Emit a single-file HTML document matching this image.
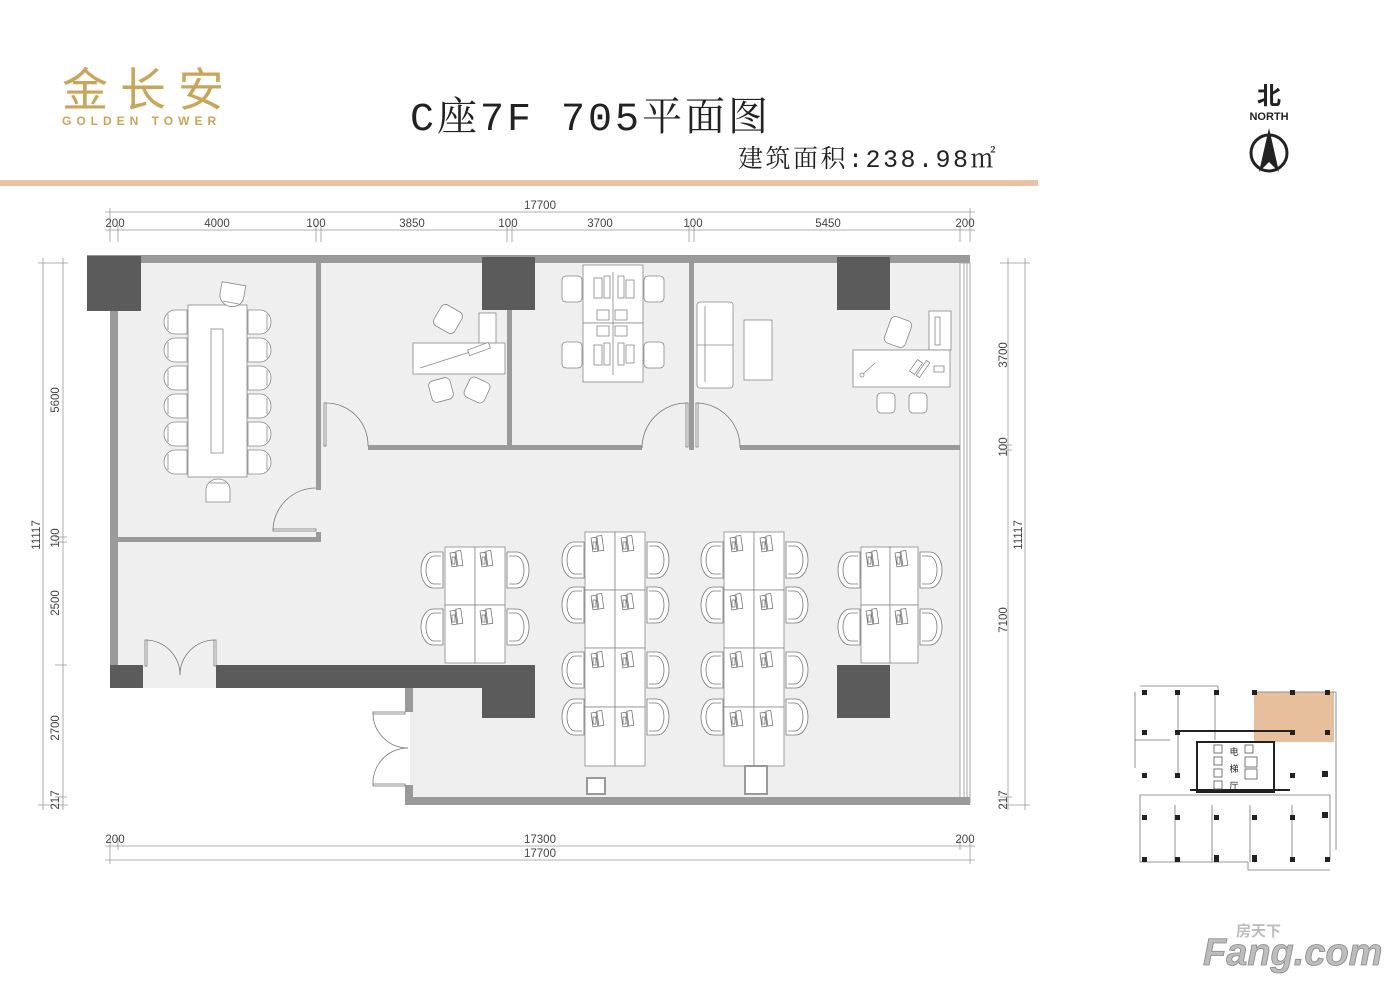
<!DOCTYPE html>
<html><head><meta charset="utf-8"><style>
html,body{margin:0;padding:0;background:#fff;}
svg{display:block;}
</style></head><body>
<svg width="1400" height="990" viewBox="0 0 1400 990" xmlns="http://www.w3.org/2000/svg">
<defs>
<g id="chL" fill="#fff" stroke="#777" stroke-width="0.8">
<path d="M22,2 H12 A12,18 0 0 0 12,38 H22 Z"/>
<path d="M20,6 H13 A8,14 0 0 0 13,34 H20"/>
</g>
<g id="mon" fill="#fff" stroke="#666" stroke-width="0.7">
<rect x="0" y="0" width="5" height="14" transform="rotate(-8)"/>
<rect x="6" y="-1" width="5" height="15" transform="rotate(-8)"/>
<rect x="2" y="4" width="3" height="7"/>
</g>
<g id="mchair" fill="#fff" stroke="#888" stroke-width="0.8">
<path d="M24,2 H12 A11,12 0 0 0 12,26 H24 Z"/>
<path d="M5,6 v16"/>
</g>
</defs>

<!-- header -->
<text x="62" y="106" font-family="'Liberation Sans','Noto Sans CJK SC',sans-serif" font-size="46" fill="#c9a55a" letter-spacing="12">金长安</text>
<text x="62" y="125" font-family="'Liberation Sans',sans-serif" font-size="12" font-weight="bold" fill="#c9a55a" letter-spacing="5">GOLDEN  TOWER</text>
<text x="410" y="130" font-family="'Liberation Mono','Noto Serif CJK SC',serif" font-size="40" fill="#222" letter-spacing="3">C座7F 705平面图</text>
<text x="738" y="167" font-family="'Liberation Mono','Noto Serif CJK SC',serif" font-size="25" fill="#222" letter-spacing="2.5">建筑面积:238.98㎡</text>
<rect x="0" y="180" width="1038" height="6" fill="#e9c3a3"/>
<text x="1269" y="104" text-anchor="middle" font-family="'Liberation Sans','Noto Sans CJK SC',sans-serif" font-size="24" font-weight="bold" fill="#222">北</text>
<text x="1269" y="120" text-anchor="middle" font-family="'Liberation Sans',sans-serif" font-size="11" font-weight="bold" fill="#222">NORTH</text>
<circle cx="1269" cy="153" r="18" fill="none" stroke="#222" stroke-width="3"/>
<path d="M1269,128 L1259,172 L1269,162 L1279,172 Z" fill="#222"/>

<!-- floor fill -->
<polygon points="110,255 970,255 970,805 410,805 410,688 110,688" fill="#efefef"/>

<!-- walls -->
<rect x="87" y="255" width="883" height="8" fill="#9a9a9a"/>
<rect x="110" y="263" width="8" height="402" fill="#9a9a9a"/>
<rect x="960" y="263" width="10" height="540" fill="#fff" stroke="#aaa" stroke-width="1"/>
<line x1="964" y1="263" x2="964" y2="800" stroke="#aaa"/>
<line x1="967" y1="263" x2="967" y2="800" stroke="#aaa"/>
<rect x="405" y="797" width="565" height="8" fill="#9a9a9a"/>
<rect x="405" y="688" width="8" height="24" fill="#9a9a9a"/>
<rect x="405" y="785" width="8" height="20" fill="#9a9a9a"/>
<!-- partitions -->
<rect x="316" y="263" width="5" height="142" fill="#9a9a9a"/>
<rect x="316" y="405" width="5" height="85" fill="#9a9a9a"/>
<rect x="316" y="532" width="5" height="10" fill="#9a9a9a"/>
<rect x="118" y="537" width="203" height="5" fill="#9a9a9a"/>
<rect x="368" y="445" width="274" height="5" fill="#9a9a9a"/>
<rect x="740" y="445" width="220" height="5" fill="#9a9a9a"/>
<rect x="507" y="263" width="5" height="184" fill="#9a9a9a"/>
<rect x="689" y="263" width="5" height="187" fill="#9a9a9a"/>
<!-- columns -->
<g fill="#5b5b5b">
<rect x="87" y="256" width="54" height="55"/>
<rect x="482" y="257" width="53" height="53"/>
<rect x="837" y="257" width="53" height="53"/>
<rect x="110" y="665" width="33" height="23"/>
<rect x="216" y="665" width="319" height="23"/>
<rect x="482" y="665" width="53" height="53"/>
<rect x="837" y="665" width="53" height="53"/>
</g>

<!-- doors -->
<g fill="none" stroke="#777" stroke-width="0.8">
<path d="M273,530 A43,43 0 0 1 316,488"/><rect x="273" y="529" width="43" height="2" fill="#fff"/>
<path d="M326,403 A42,42 0 0 1 368,446"/><rect x="324" y="403" width="2" height="43" fill="#fff"/>
<path d="M687,403 A45,45 0 0 0 642,448"/><rect x="686" y="403" width="2" height="44" fill="#fff"/>
<path d="M697,403 A44,44 0 0 1 740,448"/><rect x="696" y="403" width="2" height="44" fill="#fff"/>
<path d="M146,640 A35,35 0 0 1 180,675"/><path d="M215,640 A35,35 0 0 0 180,675"/>
<rect x="145" y="640" width="2" height="26" fill="#fff"/><rect x="214" y="640" width="2" height="26" fill="#fff"/>
<path d="M373,713 A35,35 0 0 0 408,748"/><path d="M373,785 A35,35 0 0 1 408,748"/>
<rect x="373" y="712" width="32" height="2" fill="#fff"/><rect x="373" y="784" width="32" height="2" fill="#fff"/>
</g>

<!-- meeting room -->
<g stroke="#888" stroke-width="0.8">
<rect x="188" y="305" width="59" height="172" fill="#fff"/>
<rect x="211" y="329" width="12" height="124" fill="#fff"/>
</g>
<g>
<use href="#mchair" x="163" y="308"/><use href="#mchair" x="163" y="336"/><use href="#mchair" x="163" y="364"/>
<use href="#mchair" x="163" y="392"/><use href="#mchair" x="163" y="420"/><use href="#mchair" x="163" y="448"/>
<g transform="translate(272,0) scale(-1,1)">
<use href="#mchair" x="0" y="308"/><use href="#mchair" x="0" y="336"/><use href="#mchair" x="0" y="364"/>
<use href="#mchair" x="0" y="392"/><use href="#mchair" x="0" y="420"/><use href="#mchair" x="0" y="448"/>
</g>
<use href="#mchair" transform="translate(216,305) rotate(-80)"/>
<use href="#mchair" transform="translate(206,478) rotate(90) translate(0,-26)"/>
</g>

<!-- room 2 office -->
<g fill="#fff" stroke="#888" stroke-width="0.8">
<rect x="479" y="313" width="17" height="30"/>
<rect x="413" y="343" width="92" height="31"/>
<line x1="420" y1="368" x2="470" y2="352"/><rect x="468" y="346" width="22" height="6" transform="rotate(-20 479 349)"/>
<rect x="436" y="307" width="24" height="24" rx="5" transform="rotate(30 448 319)"/>
<rect x="430" y="379" width="22" height="22" rx="5" transform="rotate(-15 441 390)"/>
<rect x="466" y="379" width="22" height="22" rx="5" transform="rotate(25 477 390)"/>
</g>

<!-- room 3 workstations -->
<g fill="#fff" stroke="#888" stroke-width="0.8">
<rect x="583" y="265" width="60" height="58"/><rect x="583" y="323" width="60" height="59"/>
<line x1="613" y1="272" x2="613" y2="375"/>
<rect x="597" y="310" width="12" height="10"/><rect x="615" y="310" width="12" height="10"/>
<rect x="597" y="326" width="12" height="10"/><rect x="615" y="326" width="12" height="10"/>
<rect x="594" y="278" width="8" height="20"/><rect x="604" y="276" width="6" height="22"/><rect x="618" y="276" width="6" height="22"/><rect x="626" y="280" width="8" height="18"/>
<rect x="594" y="345" width="8" height="20"/><rect x="604" y="343" width="6" height="22"/><rect x="618" y="343" width="6" height="22"/><rect x="626" y="345" width="8" height="18"/>
<rect x="562" y="276" width="20" height="26" rx="4"/><rect x="562" y="342" width="20" height="26" rx="4"/>
<rect x="644" y="276" width="20" height="26" rx="4"/><rect x="644" y="342" width="20" height="26" rx="4"/>
<!-- sofa -->
<rect x="697" y="302" width="36" height="86" rx="3"/>
<path d="M705,306 v76 M697,345 h36"/>
<rect x="744" y="320" width="28" height="60"/>
<!-- room 4 -->
<rect x="929" y="311" width="22" height="39"/><rect x="935" y="317" width="5" height="28"/>
<rect x="853" y="350" width="97" height="37"/>
<line x1="862" y1="375" x2="875" y2="363"/><circle cx="862" cy="375" r="2"/>
<rect x="913" y="360" width="6" height="14" transform="rotate(35 916 367)"/><rect x="921" y="360" width="4" height="18" transform="rotate(35 923 369)"/><rect x="934" y="366" width="10" height="6"/>
<rect x="887" y="318" width="22" height="28" rx="5" transform="rotate(20 898 332)"/>
<rect x="877" y="393" width="18" height="20" rx="4"/><rect x="909" y="393" width="18" height="20" rx="4"/>
</g>

<!-- open office clusters -->
<g fill="#fff" stroke="#888" stroke-width="0.8">
<rect x="445" y="547" width="30" height="58"/><rect x="475" y="547" width="30" height="58"/>
<rect x="445" y="605" width="30" height="58"/><rect x="475" y="605" width="30" height="58"/>
<rect x="585" y="532" width="30" height="58"/><rect x="615" y="532" width="30" height="58"/>
<rect x="585" y="590" width="30" height="58"/><rect x="615" y="590" width="30" height="58"/>
<rect x="585" y="648" width="30" height="59"/><rect x="615" y="648" width="30" height="59"/>
<rect x="585" y="707" width="30" height="59"/><rect x="615" y="707" width="30" height="59"/>
<rect x="724" y="532" width="30" height="58"/><rect x="754" y="532" width="30" height="58"/>
<rect x="724" y="590" width="30" height="58"/><rect x="754" y="590" width="30" height="58"/>
<rect x="724" y="648" width="30" height="59"/><rect x="754" y="648" width="30" height="59"/>
<rect x="724" y="707" width="30" height="59"/><rect x="754" y="707" width="30" height="59"/>
<rect x="861" y="547" width="29" height="58"/><rect x="890" y="547" width="28" height="58"/>
<rect x="861" y="605" width="29" height="58"/><rect x="890" y="605" width="28" height="58"/>
<rect x="587" y="778" width="18" height="16" stroke-width="2" stroke="#999"/>
<rect x="745" y="766" width="22" height="28" stroke-width="2" stroke="#999"/>
</g>
<g>
<use href="#mon" x="450" y="553"/><use href="#mon" x="480" y="553"/><use href="#mon" x="450" y="611"/><use href="#mon" x="480" y="611"/>
<use href="#mon" x="591" y="538"/><use href="#mon" x="621" y="538"/><use href="#mon" x="591" y="596"/><use href="#mon" x="621" y="596"/>
<use href="#mon" x="591" y="654"/><use href="#mon" x="621" y="654"/><use href="#mon" x="591" y="713"/><use href="#mon" x="621" y="713"/>
<use href="#mon" x="730" y="538"/><use href="#mon" x="760" y="538"/><use href="#mon" x="730" y="596"/><use href="#mon" x="760" y="596"/>
<use href="#mon" x="730" y="654"/><use href="#mon" x="760" y="654"/><use href="#mon" x="730" y="713"/><use href="#mon" x="760" y="713"/>
<use href="#mon" x="866" y="553"/><use href="#mon" x="895" y="553"/><use href="#mon" x="866" y="611"/><use href="#mon" x="895" y="611"/>
<use href="#chL" x="421" y="550"/><use href="#chL" x="421" y="607"/>
<use href="#chL" x="562" y="540"/><use href="#chL" x="562" y="585"/><use href="#chL" x="562" y="650"/><use href="#chL" x="562" y="697"/>
<use href="#chL" x="701" y="540"/><use href="#chL" x="701" y="585"/><use href="#chL" x="701" y="650"/><use href="#chL" x="701" y="697"/>
<use href="#chL" x="838" y="550"/><use href="#chL" x="838" y="607"/>
<g transform="translate(1010,0) scale(-1,1)"><use href="#chL" x="481" y="550"/><use href="#chL" x="481" y="607"/></g>
<g transform="translate(1290,0) scale(-1,1)"><use href="#chL" x="621" y="540"/><use href="#chL" x="621" y="585"/><use href="#chL" x="621" y="650"/><use href="#chL" x="621" y="697"/></g>
<g transform="translate(1568,0) scale(-1,1)"><use href="#chL" x="760" y="540"/><use href="#chL" x="760" y="585"/><use href="#chL" x="760" y="650"/><use href="#chL" x="760" y="697"/></g>
<g transform="translate(1836,0) scale(-1,1)"><use href="#chL" x="894" y="550"/><use href="#chL" x="894" y="607"/></g>
</g>

<!-- dimensions -->
<g stroke="#999" stroke-width="0.8" fill="none">
<line x1="105" y1="212" x2="975" y2="212"/>
<line x1="105" y1="230" x2="975" y2="230"/>
<path d="M110,208 v34 M118,225 v17 M316,225 v17 M321,225 v17 M507,225 v17 M512,225 v17 M689,225 v17 M694,225 v17 M960,225 v17 M970,208 v34"/>
<line x1="43" y1="258" x2="43" y2="810"/>
<line x1="63" y1="258" x2="63" y2="810"/>
<path d="M38,263 h30 M55,537 h12 M55,542 h12 M55,665 h12 M55,797 h12 M38,805 h30"/>
<line x1="1008" y1="258" x2="1008" y2="810"/>
<line x1="1025" y1="258" x2="1025" y2="810"/>
<path d="M1000,263 h30 M1000,445 h12 M1000,450 h12 M1000,797 h12 M1000,805 h30"/>
<line x1="105" y1="846" x2="975" y2="846"/>
<line x1="105" y1="860" x2="975" y2="860"/>
<path d="M110,838 v26 M118,838 v12 M960,838 v12 M970,838 v26"/>
</g>
<g font-family="'Liberation Sans',sans-serif" font-size="11.5" fill="#444" text-anchor="middle">
<text x="540" y="209">17700</text>
<text x="115" y="227">200</text><text x="217" y="227">4000</text><text x="316" y="227">100</text><text x="412" y="227">3850</text>
<text x="508" y="227">100</text><text x="600" y="227">3700</text><text x="693" y="227">100</text><text x="828" y="227">5450</text><text x="965" y="227">200</text>
<text x="540" y="843">17300</text><text x="540" y="857">17700</text><text x="115" y="843">200</text><text x="965" y="843">200</text>
<text transform="translate(59,400) rotate(-90)">5600</text>
<text transform="translate(59,538) rotate(-90)">100</text>
<text transform="translate(59,603) rotate(-90)">2500</text>
<text transform="translate(59,728) rotate(-90)">2700</text>
<text transform="translate(59,800) rotate(-90)">217</text>
<text transform="translate(40,535) rotate(-90)">11117</text>
<text transform="translate(1007,355) rotate(-90)">3700</text>
<text transform="translate(1007,447) rotate(-90)">100</text>
<text transform="translate(1007,620) rotate(-90)">7100</text>
<text transform="translate(1007,800) rotate(-90)">217</text>
<text transform="translate(1022,535) rotate(-90)">11117</text>
</g>

<!-- key plan -->
<g stroke="#777" stroke-width="0.8" fill="none">
<rect x="1254" y="692" width="80" height="50" fill="#e8bf9c" stroke="none"/>
<path d="M1135,692 V768 M1135,740 H1170 M1140,686 H1218 M1218,686 V692 M1254,692 H1336 V742 M1336,742 V850 M1140,795 H1330 V860 M1140,795 V862 H1248 M1248,862 V870 H1330"/>
<path d="M1178,692 V775 M1215,692 V740 M1175,805 V862 M1212,805 V862 M1250,805 V862 M1292,805 V862"/>
</g>
<g fill="#222">
<rect x="1142" y="690" width="5" height="5"/><rect x="1175" y="690" width="5" height="5"/><rect x="1214" y="690" width="5" height="5"/><rect x="1252" y="690" width="5" height="5"/><rect x="1290" y="690" width="5" height="5"/><rect x="1325" y="690" width="5" height="5"/>
<rect x="1142" y="730" width="5" height="5"/><rect x="1175" y="730" width="5" height="5"/><rect x="1290" y="730" width="5" height="5"/><rect x="1325" y="730" width="5" height="5"/>
<rect x="1142" y="773" width="5" height="5"/><rect x="1175" y="773" width="5" height="5"/><rect x="1290" y="773" width="5" height="5"/><rect x="1322" y="771" width="6" height="6"/>
<rect x="1142" y="815" width="5" height="5"/><rect x="1175" y="815" width="5" height="5"/><rect x="1214" y="815" width="5" height="5"/><rect x="1252" y="815" width="5" height="5"/><rect x="1290" y="815" width="5" height="5"/><rect x="1322" y="812" width="6" height="6"/>
<rect x="1142" y="857" width="5" height="5"/><rect x="1175" y="857" width="5" height="5"/><rect x="1214" y="855" width="5" height="7"/><rect x="1252" y="855" width="5" height="7"/><rect x="1290" y="857" width="5" height="5"/><rect x="1325" y="857" width="5" height="5"/>
</g>
<g fill="none" stroke="#222" stroke-width="2">
<rect x="1197" y="742" width="77" height="50"/>
<path d="M1178,731 H1290 M1190,790 H1290"/>
</g>
<g stroke="#555" stroke-width="0.8" fill="#fff">
<rect x="1214" y="745" width="8" height="8"/><rect x="1214" y="757" width="8" height="8"/><rect x="1214" y="769" width="8" height="8"/><rect x="1214" y="781" width="8" height="8"/>
<rect x="1245" y="745" width="8" height="8"/><rect x="1245" y="757" width="12" height="10"/><rect x="1245" y="769" width="12" height="10"/>
</g>
<g font-family="'Liberation Sans','Noto Sans CJK SC',sans-serif" font-size="9" fill="#222" text-anchor="middle">
<text x="1234" y="755">电</text><text x="1234" y="772">梯</text><text x="1234" y="789">厅</text>
</g>

<!-- watermark -->
<text x="1203" y="965" font-family="'Liberation Sans',sans-serif" font-size="38" font-weight="bold" font-style="italic" fill="#bdbdbd" stroke="#888" stroke-width="0.8">Fang.com</text>
<text x="1236" y="936" font-family="'Liberation Sans','Noto Sans CJK SC',sans-serif" font-size="15" font-weight="bold" fill="#bdbdbd">房天下</text>
</svg>
</body></html>
